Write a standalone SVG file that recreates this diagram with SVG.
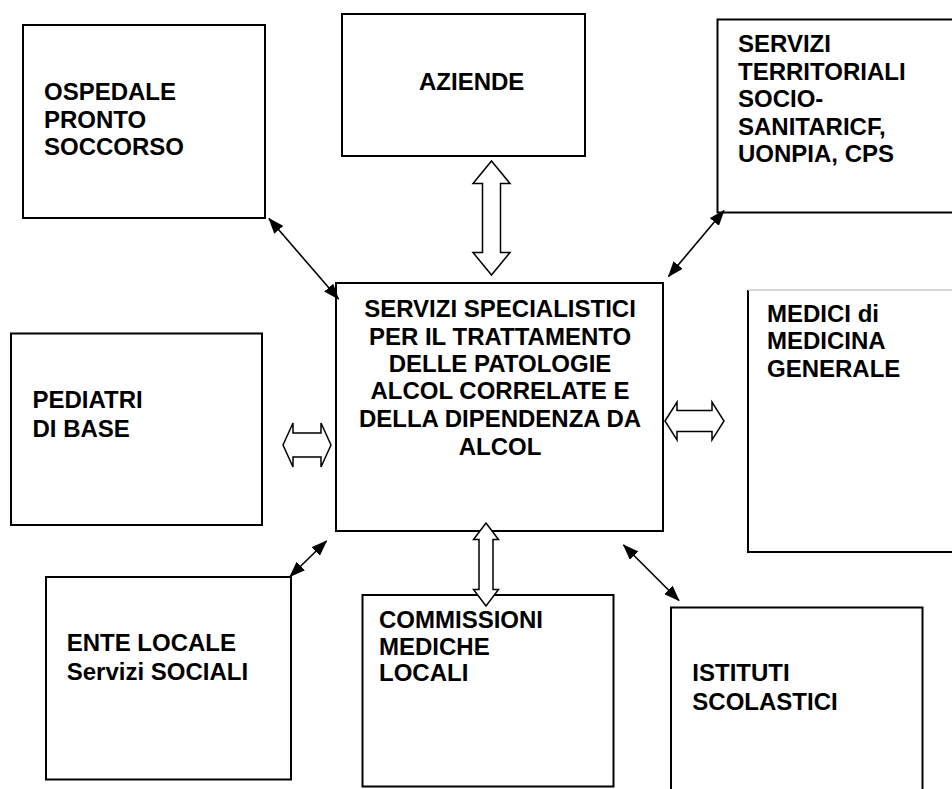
<svg xmlns="http://www.w3.org/2000/svg" width="952" height="789" viewBox="0 0 952 789">
  <style>
    .box { fill: #fff; stroke: #000; stroke-width: 2; }
    .t { font-family: "Liberation Sans", Arial, sans-serif; font-weight: bold; font-size: 24px; fill: #000; }
    .ln { fill: none; stroke: #000; stroke-width: 1.6; marker-start: url(#ah); marker-end: url(#ah); }
    .blk { fill: #fff; stroke: #000; stroke-width: 1.5; stroke-linejoin: miter; }
  </style>
  <defs>
    <marker id="ah" markerUnits="userSpaceOnUse" markerWidth="16" markerHeight="12" refX="15" refY="6" orient="auto-start-reverse">
      <path d="M0,0 L16,6 L0,12 Z" fill="#000"/>
    </marker>
  </defs>
  <rect width="952" height="789" fill="#fff"/>

  <g id="ospedale">
    <rect class="box" x="23" y="25" width="242" height="193"/>
    <text class="t" x="44" y="100">OSPEDALE</text>
    <text class="t" x="44" y="127.7">PRONTO</text>
    <text class="t" x="44" y="155.3">SOCCORSO</text>
  </g>

  <g id="aziende">
    <rect class="box" x="342" y="14" width="243" height="142"/>
    <text class="t" x="419" y="90">AZIENDE</text>
  </g>

  <g id="servizi-territoriali">
    <rect class="box" x="717.5" y="19.5" width="250" height="193"/>
    <text class="t" x="738" y="52.3">SERVIZI</text>
    <text class="t" x="738" y="80">TERRITORIALI</text>
    <text class="t" x="738" y="107.3">SOCIO-</text>
    <text class="t" x="738" y="135">SANITARICF,</text>
    <text class="t" x="738" y="162.3">UONPIA, CPS</text>
  </g>

  <g id="centro">
    <rect class="box" x="336" y="283" width="327" height="248"/>
    <text class="t" x="500" y="317.3" text-anchor="middle">SERVIZI SPECIALISTICI</text>
    <text class="t" x="500" y="344.5" text-anchor="middle">PER IL TRATTAMENTO</text>
    <text class="t" x="500" y="371.8" text-anchor="middle">DELLE PATOLOGIE</text>
    <text class="t" x="500" y="399.3" text-anchor="middle">ALCOL CORRELATE E</text>
    <text class="t" x="500" y="426.8" text-anchor="middle">DELLA DIPENDENZA DA</text>
    <text class="t" x="500" y="454.8" text-anchor="middle">ALCOL</text>
  </g>

  <g id="medici">
    <path d="M748,290 L748,552 L960,552" fill="none" stroke="#000" stroke-width="2"/>
    <path d="M748,290 L960,290" fill="none" stroke="#c8c8c8" stroke-width="1.5"/>
    <text class="t" x="767" y="321.5">MEDICI di</text>
    <text class="t" x="767" y="349">MEDICINA</text>
    <text class="t" x="767" y="376.5">GENERALE</text>
  </g>

  <g id="pediatri">
    <rect class="box" x="11" y="333.5" width="251" height="191.5"/>
    <text class="t" x="32.5" y="408.3">PEDIATRI</text>
    <text class="t" x="32.5" y="436.7">DI BASE</text>
  </g>

  <g id="ente-locale">
    <rect class="box" x="46" y="577" width="245" height="202.5"/>
    <text class="t" x="66.7" y="651">ENTE LOCALE</text>
    <text class="t" x="66.7" y="680">Servizi SOCIALI</text>
  </g>

  <g id="commissioni">
    <rect class="box" x="362.5" y="595" width="251" height="191.5"/>
    <text class="t" x="379" y="628.3">COMMISSIONI</text>
    <text class="t" x="379" y="655">MEDICHE</text>
    <text class="t" x="379" y="680.5">LOCALI</text>
  </g>

  <g id="istituti">
    <rect class="box" x="671" y="607.5" width="251.5" height="200"/>
    <text class="t" x="692.3" y="680.5">ISTITUTI</text>
    <text class="t" x="692.3" y="710">SCOLASTICI</text>
  </g>

  <g id="connectors">
    <line class="ln" x1="269" y1="218.5" x2="338.5" y2="299"/>
    <line class="ln" x1="724" y1="210.5" x2="668.5" y2="276.5"/>
    <line class="ln" x1="290" y1="576.5" x2="326.5" y2="541"/>
    <line class="ln" x1="623.5" y1="545" x2="679" y2="600.5"/>
    <path class="blk" d="M491.5,161 L510,183.5 L500.5,183.5 L500.5,252.5 L510,252.5 L491.5,275 L473,252.5 L482.5,252.5 L482.5,183.5 L473,183.5 Z"/>
    <path class="blk" d="M486,523 L498.5,539.5 L493,539.5 L493,589.5 L498.5,589.5 L486,606 L473.5,589.5 L479,589.5 L479,539.5 L473.5,539.5 Z"/>
    <path class="blk" d="M283,445 L293,423 L293,433 L321,433 L321,423 L331,445 L321,467 L321,457 L293,457 L293,467 Z"/>
    <path class="blk" d="M665,421 L677,402 L677,410.5 L712,410.5 L712,402 L724,421 L712,440 L712,431.5 L677,431.5 L677,440 Z"/>
  </g>
</svg>
